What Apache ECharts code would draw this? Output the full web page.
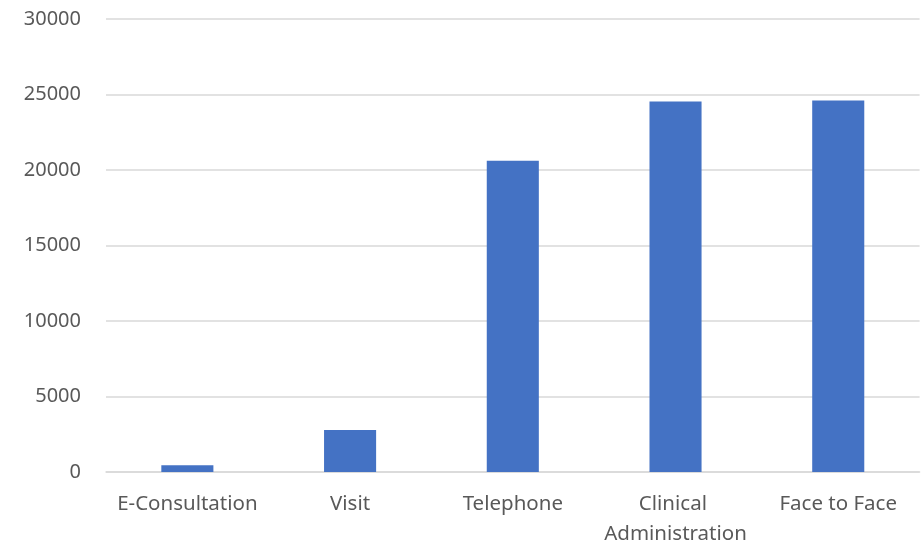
<!DOCTYPE html>
<html>
<head>
<meta charset="utf-8">
<script src="https://cdn.jsdelivr.net/npm/echarts@6/dist/echarts.min.js"></script>
<style>
html,body{margin:0;padding:0;background:#fff;}
#chart{width:921px;height:549px;}
</style>
</head>
<body>
<div id="chart"></div>
<script>
var categories = ["E-Consultation", "Visit", "Telephone", "Clinical Administration", "Face to Face"];
var values = [440, 2780, 20610, 24540, 24600];
var yTicks = { min: 0, max: 30000, interval: 5000 };

var chart = echarts.init(document.getElementById('chart'), null, { renderer: 'canvas' });
chart.setOption({
  animation: false,
  backgroundColor: '#ffffff',
  grid: { left: 106, right: -1, top: 19, bottom: 74, containLabel: false },
  xAxis: {
    type: 'category',
    data: categories,
    axisLine: { show: true, lineStyle: { color: '#d9d9d9', width: 1.5 } },
    axisTick: { show: false },
    axisLabel: {
      interval: 0,
      color: '#595959',
      fontFamily: 'Noto Sans',
      fontSize: 20.5,
      lineHeight: 30,
      margin: 17,
      width: 160,
      overflow: 'break'
    }
  },
  yAxis: {
    type: 'value',
    min: yTicks.min,
    max: yTicks.max,
    interval: yTicks.interval,
    axisLine: { show: false },
    axisTick: { show: false },
    splitLine: { lineStyle: { color: '#d9d9d9', width: 1.5 } },
    axisLabel: {
      color: '#595959',
      fontFamily: 'Noto Sans',
      fontSize: 20,
      margin: 25,
      formatter: function (v) { return String(v); }
    }
  },
  series: [{
    type: 'bar',
    data: values,
    barWidth: '32%',
    itemStyle: { color: '#4472c4' }
  }]
});
</script>
</body>
</html>
